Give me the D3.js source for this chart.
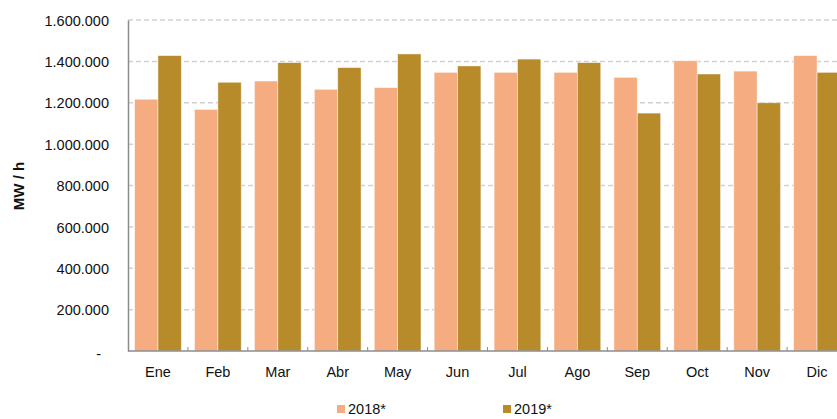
<!DOCTYPE html>
<html>
<head>
<meta charset="utf-8">
<script src="https://cdn.jsdelivr.net/npm/d3@7"></script>
<style>
  body { margin: 0; background: #fff; }
  svg { display: block; font-family: "Liberation Sans", Arial, sans-serif; }
</style>
</head>
<body>
<div id="chart"></div>
<script>
const months = ['Ene', 'Feb', 'Mar', 'Abr', 'May', 'Jun', 'Jul', 'Ago', 'Sep', 'Oct', 'Nov', 'Dic'];
const seriesNames = ['2018*', '2019*'];
const values2018 = [1217000, 1168000, 1305000, 1265000, 1273000, 1347000, 1347000, 1347000, 1323000, 1403000, 1353000, 1428000];
const values2019 = [1428000, 1299000, 1394000, 1370000, 1436000, 1378000, 1411000, 1394000, 1150000, 1339000, 1200000, 1347000];
const yTicks = [0, 200000, 400000, 600000, 800000, 1000000, 1200000, 1400000, 1600000];
const colors = ['#f5ac80', '#b78a2a'];

const config = {
    width: 837,
    height: 419,
    left: 128,
    right: 847,
    top: 20,
    bottom: 351
};

const data = months.map((m, i) => ({ month: m, values: [values2018[i], values2019[i]] }));

const locale = d3.formatLocale({ decimal: ',', thousands: '.', grouping: [3], currency: ['', ''] });
const fmt = locale.format(',.0f');

const svg = d3.select('#chart').append('svg')
    .attr('width', config.width)
    .attr('height', config.height);

const x0 = d3.scaleBand()
    .domain(months)
    .range([config.left, config.right])
    .paddingInner(0.22)
    .paddingOuter(0.11);
const x1 = d3.scaleBand()
    .domain([0, 1])
    .range([0, x0.bandwidth()]);
const y = d3.scaleLinear()
    .domain([0, 1600000])
    .range([config.bottom, config.top]);

// gridlines
svg.append('g')
    .selectAll('line')
    .data(yTicks.filter(t => t > 0))
    .enter().append('line')
        .attr('x1', config.left)
        .attr('x2', config.width)
        .attr('y1', d => y(d))
        .attr('y2', d => y(d))
        .attr('stroke', '#d2d2d2')
        .attr('stroke-width', 1.5)
        .attr('stroke-dasharray', '5,3');

// bars
const groups = svg.append('g')
    .selectAll('g')
    .data(data)
    .enter().append('g')
        .attr('transform', d => 'translate(' + x0(d.month) + ',0)');
groups.selectAll('rect')
    .data(d => d.values.map((v, i) => ({ i: i, v: v })))
    .enter().append('rect')
        .attr('x', d => x1(d.i))
        .attr('width', x1.bandwidth())
        .attr('y', d => y(d.v))
        .attr('height', d => y(0) - y(d.v))
        .attr('fill', d => colors[d.i])
        .attr('stroke', '#fff')
        .attr('stroke-opacity', 0.6)
        .attr('stroke-width', 0.8);

// y axis
const yAxis = svg.append('g')
    .attr('transform', 'translate(' + config.left + ',0)')
    .call(d3.axisLeft(y).tickValues(yTicks).tickSize(0).tickPadding(19)
        .tickFormat(d => d === 0 ? '-' : fmt(d)));
yAxis.select('.domain').attr('stroke', '#8c8c8c').attr('stroke-width', 1.5);
yAxis.selectAll('text')
    .attr('font-size', '14.5px')
    .attr('fill', '#111')
    .attr('font-family', '"Liberation Sans", Arial, sans-serif')
    .attr('dy', '0.36em');
yAxis.selectAll('.tick')
    .filter(d => d === 0)
    .select('text')
    .attr('x', -27)
    .attr('dy', '0.55em');

// x axis
const step = x0.step();
svg.append('line')
    .attr('x1', config.left)
    .attr('x2', config.width)
    .attr('y1', config.bottom)
    .attr('y2', config.bottom)
    .attr('stroke', '#8c8c8c')
    .attr('stroke-width', 1.5);
svg.append('g')
    .selectAll('line')
    .data(months.slice(1))
    .enter().append('line')
        .attr('x1', d => x0(d) - step * x0.paddingInner() / 2)
        .attr('x2', d => x0(d) - step * x0.paddingInner() / 2)
        .attr('y1', config.bottom)
        .attr('y2', config.bottom - 4)
        .attr('stroke', '#8c8c8c')
        .attr('stroke-width', 1);
svg.append('g')
    .selectAll('text')
    .data(months)
    .enter().append('text')
        .attr('x', d => x0(d) + x0.bandwidth() / 2)
        .attr('y', 377)
        .attr('text-anchor', 'middle')
        .attr('font-size', '14.5px')
        .attr('fill', '#111')
        .text(d => d);

// y axis title
svg.append('text')
    .attr('transform', 'translate(24,186) rotate(-90)')
    .attr('text-anchor', 'middle')
    .attr('font-size', '15px')
    .attr('font-weight', 'bold')
    .attr('fill', '#111')
    .text('MW / h');

// legend
const legendX = [337, 503];
const legend = svg.append('g')
    .selectAll('g')
    .data(seriesNames)
    .enter().append('g')
        .attr('transform', (d, i) => 'translate(' + legendX[i] + ',405)');
legend.append('rect')
    .attr('width', 8)
    .attr('height', 8)
    .attr('fill', (d, i) => colors[i]);
legend.append('text')
    .attr('x', 11)
    .attr('y', 9)
    .attr('font-size', '14.5px')
    .attr('fill', '#111')
    .text(d => d);
</script>
</body>
</html>
